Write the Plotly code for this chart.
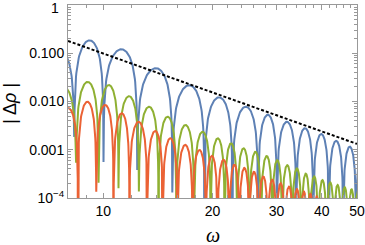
import numpy as np
import plotly.graph_objects as go

# ---------------- data ----------------
omega_range = [8, 50]

# blue series: zero crossings (omega), arch peak heights, depth reached at each zero
blue_zeros = [6.95, 8.32, 10.02, 12.41, 15.5, 19.0, 22.7, 26.7, 30.1, 34.0, 37.9, 41.8, 45.8, 49.7, 53.7]
blue_peaks = [0.11, 0.185, 0.121, 0.049, 0.0218, 0.0122, 0.0078, 0.0053, 0.0038, 0.0028, 0.00212, 0.00153, 0.00116, 0.00095]
blue_dips = [None, 0.00185, 0.00056, 0.00038, 0.00013, None, None, None, None, None, None, None, None, None, None]

green_zeros = [7.1, 8.42, 9.71, 11.02, 12.54, 14.2, 15.9, 17.8, 19.76, 21.6, 23.4, 25.3, 27.2,
               29.2, 31.1, 33.15, 35.15, 37.1, 39.1, 41.2, 43.2, 45.2, 47.3, 49.3, 51.3]
green_peaks = [0.0205, 0.0255, 0.0219, 0.0129, 0.0078, 0.00485, 0.00326, 0.00236, 0.00173, 0.00136,
               0.00107, 0.00091, 0.00074, 0.00061, 0.00048, 0.00041, 0.00032, 0.00028, 0.000235,
               0.00021, 0.000187, 0.000167, 0.000152, 0.00014]
green_dips = [None, 0.00054, 0.000207, 0.00016, 0.000136] + [None] * 20

orange_zeros = [7.5, 8.52, 9.57, 10.68, 11.81, 13.22, 14.59, 16.02, 17.62, 19.19, 20.65, 22.24, 23.7,
                25.25, 26.78, 28.4, 30.0, 31.6, 33.35, 34.95, 36.45, 37.95, 39.45, 41.0, 42.5, 44.0,
                45.5, 47.0, 48.5, 50.0, 51.5]
orange_peaks = [0.0073, 0.0099, 0.0085, 0.0057, 0.0038, 0.00245, 0.00173, 0.00126, 0.00099, 0.00075,
                0.00062, 0.00049, 0.00042, 0.00035, 0.00028, 0.00024, 0.000203, 0.000173, 0.000153,
                0.000136, 0.000122, 0.000108, 0.000096, 0.000086, 0.000078, 0.00007, 0.000063,
                0.000057, 0.000052, 0.000047]
orange_dips = [None, None, 0.000135] + [None] * 28

envelope_omega = [8, 50]
envelope_value = [0.18, 0.00132]

y_tickvals = [1e-4, 1e-3, 1e-2, 1e-1]
y_ticktext = ["10<sup>\u22124</sup>", "0.001", "0.010", "0.100"]
y_top_label = "1"
x_tickvals = [10, 20, 30, 40, 50]
x_ticktext = ["10", "20", "30", "40", "50"]
x_minor = [8, 9, 12, 14, 16, 18, 22, 24, 26, 28, 32, 34, 36, 38, 42, 44, 46, 48]
y_minor = [k * 10.0 ** e for e in range(-4, 0) for k in range(2, 10)]


def arches(zeros, peaks, dips, n=90):
    xs, ys = [], []
    t = np.linspace(0, 1, n)[1:-1]
    for i, amp in enumerate(peaks):
        a, b = zeros[i], zeros[i + 1]
        xs.append(a)
        ys.append(dips[i] if dips[i] is not None else 1e-7)
        xs.extend(a + (b - a) * t)
        ys.extend(amp * np.sin(np.pi * t))
    xs.append(zeros[len(peaks)])
    d = dips[len(peaks)]
    ys.append(d if d is not None else 1e-7)
    return xs, ys


fig = go.Figure()
for zeros, peaks, dips, col in [
    (blue_zeros, blue_peaks, blue_dips, "#5E81B5"),
    (green_zeros, green_peaks, green_dips, "#8FB032"),
    (orange_zeros, orange_peaks, orange_dips, "#EB6235"),
]:
    x, y = arches(zeros, peaks, dips)
    fig.add_trace(go.Scatter(x=x, y=y, mode="lines", line=dict(color=col, width=2),
                             showlegend=False, hoverinfo="skip"))

fig.add_trace(go.Scatter(x=envelope_omega, y=envelope_value, mode="lines",
                         line=dict(color="black", width=2, dash="3px,2px"),
                         showlegend=False, hoverinfo="skip"))

frame = "#999999"
tfont = dict(family="Liberation Sans, Arial", size=14, color="black")
fig.update_xaxes(type="log", range=[np.log10(omega_range[0]), np.log10(omega_range[1])],
                 tickmode="array", tickvals=x_tickvals, ticktext=x_ticktext,
                 ticks="inside", ticklen=5, tickwidth=1, tickcolor=frame,
                 showline=True, linecolor=frame, linewidth=1, mirror="allticks",
                 showgrid=False, zeroline=False, automargin=False,
                 minor=dict(tickmode="array", tickvals=x_minor, ticks="inside", ticklen=3,
                            tickcolor=frame, showgrid=False),
                 tickfont=tfont)
fig.update_yaxes(type="log", range=[-4, 0],
                 tickmode="array", tickvals=y_tickvals, ticktext=y_ticktext,
                 ticks="inside", ticklen=5, tickwidth=1, tickcolor=frame,
                 showline=True, linecolor=frame, linewidth=1, mirror="allticks",
                 showgrid=False, zeroline=False, automargin=False,
                 minor=dict(tickmode="array", tickvals=y_minor, ticks="inside", ticklen=3,
                            tickcolor=frame, showgrid=False),
                 tickfont=tfont)

# top "1" label kept inside the canvas like in the reference
fig.add_annotation(text=y_top_label, xref="paper", yref="paper", x=-0.025, y=0.985,
                   xanchor="right", yanchor="middle", showarrow=False, font=tfont)
fig.add_annotation(text="<i>\u03c9</i>", xref="paper", yref="paper", x=0.5, y=-0.19,
                   xanchor="center", yanchor="middle", showarrow=False,
                   font=dict(family="Liberation Serif, DejaVu Serif", size=20, color="black"))
fig.add_annotation(text="| \u0394<i>\u03c1</i> |", xref="paper", yref="paper", x=-0.2, y=0.49,
                   xanchor="center", yanchor="middle", textangle=-90, showarrow=False,
                   font=dict(family="Liberation Sans, Arial", size=18, color="black"))

fig.update_layout(width=365, height=245, margin=dict(l=68, r=8, t=5, b=47),
                  plot_bgcolor="white", paper_bgcolor="white")
fig.write_html("out.html", config={"displayModeBar": False},
               post_script="document.body.style.margin='0';document.body.style.overflow='hidden';")
